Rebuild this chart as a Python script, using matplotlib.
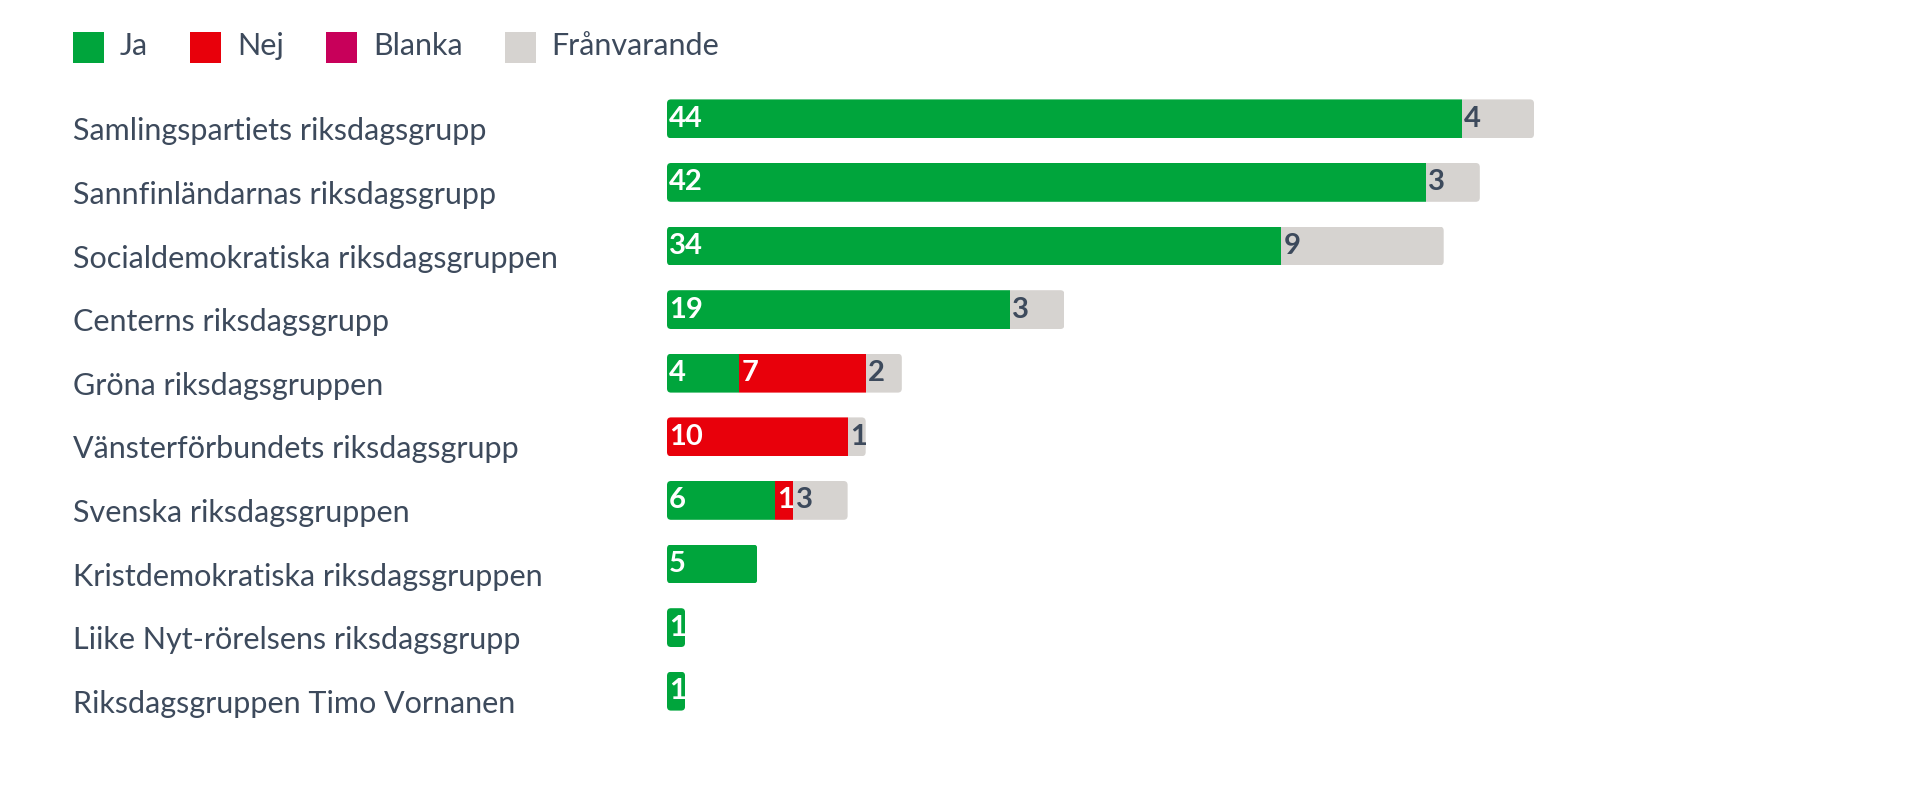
import matplotlib
matplotlib.use("Agg")
import matplotlib.pyplot as plt
import matplotlib.transforms as mtransforms
from matplotlib.patches import Patch, FancyBboxPatch

plt.rcParams['font.family'] = ['Lato', 'DejaVu Sans']

groups = [
    "Samlingspartiets riksdagsgrupp",
    "Sannfinländarnas riksdagsgrupp",
    "Socialdemokratiska riksdagsgruppen",
    "Centerns riksdagsgrupp",
    "Gröna riksdagsgruppen",
    "Vänsterförbundets riksdagsgrupp",
    "Svenska riksdagsgruppen",
    "Kristdemokratiska riksdagsgruppen",
    "Liike Nyt-rörelsens riksdagsgrupp",
    "Riksdagsgruppen Timo Vornanen",
]
ja = [44, 42, 34, 19, 4, 0, 6, 5, 1, 1]
nej = [0, 0, 0, 0, 7, 10, 1, 0, 0, 0]
blanka = [0, 0, 0, 0, 0, 0, 0, 0, 0, 0]
franvarande = [4, 3, 9, 3, 2, 1, 3, 0, 0, 0]

series = [("Ja", ja, "#00a53c", "white"),
          ("Nej", nej, "#e8000b", "white"),
          ("Blanka", blanka, "#c8005a", "white"),
          ("Frånvarande", franvarande, "#d6d3d0", "#3d4a5c")]
text_col = "#3d4a5c"
bar_h = 0.61

fig = plt.figure(figsize=(19.2, 7.99), dpi=100)
ax = fig.add_axes([667 / 1920, 1 - 723 / 799, 1156 / 1920, 636 / 799])

ypos = list(range(len(groups)))
totals = [sum(t) for t in zip(ja, nej, blanka, franvarande)]

# rounded outline of each stacked row, used to clip the segments
clips = []
for i, tot in enumerate(totals):
    box = FancyBboxPatch((0, i - bar_h / 2), tot, bar_h,
                         boxstyle="round,pad=0,rounding_size=0.22",
                         mutation_aspect=0.29, transform=ax.transData,
                         facecolor='none', edgecolor='none')
    ax.add_patch(box)
    clips.append(box)

left = [0] * len(groups)
for name, vals, color, lab_col in series:
    bars = ax.barh(ypos, vals, left=left, height=bar_h, color=color, linewidth=0)
    for i, b in enumerate(bars):
        b.set_clip_path(clips[i])
    for i, v in enumerate(vals):
        if v > 0:
            ax.text(left[i] + 0.12, i, str(v), ha='left', va='center',
                    fontsize=21, fontweight='bold', color=lab_col)
    left = [a + b for a, b in zip(left, vals)]

ax.set_xlim(0, 64)
ax.set_ylim(len(groups) - 0.5, -0.5)
ax.axis('off')

# group names, left aligned in the margin
trans = mtransforms.blended_transform_factory(fig.transFigure, ax.transData)
for i, g in enumerate(groups):
    ax.text(73 / 1920, i + 0.34, g, transform=trans, ha='left', va='baseline',
            fontsize=22, color=text_col)

handles = [Patch(facecolor=c, edgecolor='none', label=n) for n, _, c, _ in series]
fig.legend(handles=handles, loc='upper left', bbox_to_anchor=(73 / 1920, 1 - 31 / 799),
           ncol=4, frameon=False, fontsize=22, handlelength=1.0, handleheight=1.0,
           handletextpad=0.52, columnspacing=1.4, borderpad=0, borderaxespad=0,
           labelcolor=text_col)
for h in fig.legends[0].legend_handles:
    h.set_height(h.get_width())
    h.set_y(h.get_y() - 3)

fig.savefig("out.png", dpi=100, facecolor="white")
